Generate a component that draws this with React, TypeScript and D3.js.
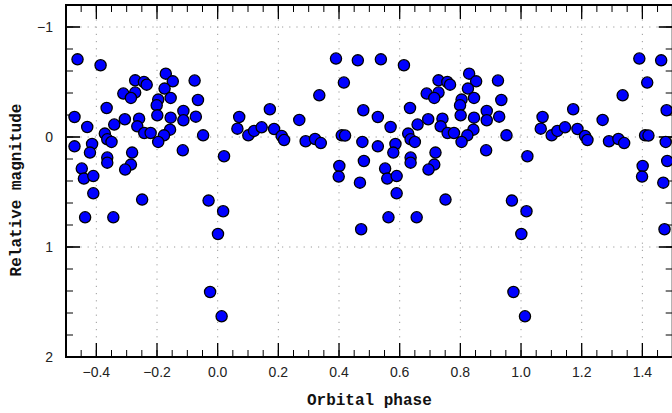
import React from "react";
import * as d3 from "d3";

// Folded light-curve observations: orbital phase (one cycle) and relative magnitude
const phases = [
  -0.462, -0.386, -0.272, -0.243, -0.234, -0.311, -0.272, -0.286, -0.366, -0.472,
  -0.43, -0.306, -0.259, -0.341, -0.265, -0.372, -0.364, -0.35, -0.242, -0.221,
  -0.472, -0.414, -0.421, -0.282, -0.364, -0.364, -0.286, -0.305, -0.448, -0.441,
  -0.41, -0.41, -0.437, -0.344, -0.249, -0.03, 0.018, 0.001, -0.025, 0.013,
  -0.171, -0.148, -0.076, -0.175, -0.155, -0.065, -0.196, -0.201, -0.113, -0.199,
  -0.155, -0.113, -0.072, -0.157, -0.177, -0.196, -0.048, -0.115, 0.021, 0.071,
  0.065, 0.101, 0.12, 0.145, 0.172, 0.39, 0.462, 0.416, 0.335, 0.48,
  0.269, 0.186, 0.211, 0.219, 0.29, 0.321, 0.34, 0.409, 0.42, 0.477,
  0.401, 0.399, 0.482, 0.469, 0.473,
];
const magnitudes = [
  -0.706, -0.652, -0.515, -0.5, -0.476, -0.395, -0.404, -0.355, -0.264, -0.182,
  -0.091, -0.161, -0.167, -0.113, -0.097, -0.031, 0.021, 0.045, -0.036, -0.036,
  0.085, 0.064, 0.142, 0.142, 0.187, 0.233, 0.251, 0.296, 0.287, 0.378,
  0.355, 0.512, 0.73, 0.73, 0.569, 0.578, 0.675, 0.882, 1.409, 1.63,
  -0.576, -0.506, -0.513, -0.44, -0.355, -0.336, -0.34, -0.288, -0.236, -0.197,
  -0.176, -0.152, -0.185, -0.067, -0.015, 0.045, -0.015, 0.121, 0.175, -0.182,
  -0.076, -0.015, -0.055, -0.088, -0.252, -0.713, -0.697, -0.495, -0.379, -0.243,
  -0.155, -0.073, -0.009, 0.027, 0.039, 0.018, 0.055, -0.015, -0.013, 0.045,
  0.264, 0.36, 0.218, 0.415, 0.839,
];
const cycleShifts = [-1, 0, 1];

const xTicks = [-0.4, -0.2, 0, 0.2, 0.4, 0.6, 0.8, 1.0, 1.2, 1.4];
const xTickLabels = ["\u22120.4", "\u22120.2", "0.0", "0.2", "0.4", "0.6", "0.8", "1.0", "1.2", "1.4"];
const yTicks = [-1, 0, 1, 2];
const yTickLabels = ["\u22121", "0", "1", "2"];
const yGrid = [-1, 0, 1];
const xTitle = "Orbital phase";
const yTitle = "Relative magnitude";

export default function App() {
  const W = 672, H = 413;
  const left = 66, right = 672.7, top = 5, bottom = 357;
  const x = d3.scaleLinear().domain([-0.5, 1.5]).range([left, right]);
  const y = d3.scaleLinear().domain([-1.2, 2]).range([top, bottom]);

  const pts: { p: number; m: number }[] = [];
  phases.forEach((p, i) => {
    cycleShifts.forEach((k) => {
      const ph = p + k;
      if (ph >= -0.5 && ph <= 1.5) pts.push({ p: ph, m: magnitudes[i] });
    });
  });

  const xMinor = d3.range(-10, 31).map((i) => i * 0.05);
  const yMinor = d3.range(-6, 11).map((i) => i * 0.2);

  const tickFont = "'Liberation Sans', Arial, Helvetica, sans-serif";
  const titleFont = "'Liberation Mono', 'Courier New', monospace";

  return (
    <svg width={W} height={H} style={{ position: "absolute", left: 0, top: 0, background: "#fff" }}>
      {/* grid */}
      {xTicks.map((t) => (
        <line key={"gx" + t} x1={x(t)} x2={x(t)} y1={top} y2={bottom}
          stroke="#9a9a9a" strokeWidth={1} strokeDasharray="1.2,6" />
      ))}
      {yGrid.map((t) => (
        <line key={"gy" + t} x1={left} x2={right} y1={y(t)} y2={y(t)}
          stroke="#9a9a9a" strokeWidth={1} strokeDasharray="1.2,6" />
      ))}

      {/* minor ticks */}
      {xMinor.map((t, i) => (
        <g key={"xm" + i}>
          <line x1={x(t)} x2={x(t)} y1={bottom} y2={bottom - 7} stroke="#000" strokeWidth={1} />
          <line x1={x(t)} x2={x(t)} y1={top} y2={top + 7} stroke="#000" strokeWidth={1} />
        </g>
      ))}
      {yMinor.map((t, i) => (
        <g key={"ym" + i}>
          <line x1={left} x2={left + 7} y1={y(t)} y2={y(t)} stroke="#000" strokeWidth={1} />
          <line x1={right} x2={right - 7} y1={y(t)} y2={y(t)} stroke="#000" strokeWidth={1} />
        </g>
      ))}
      {/* major ticks */}
      {xTicks.map((t) => (
        <g key={"xM" + t}>
          <line x1={x(t)} x2={x(t)} y1={bottom} y2={bottom - 14} stroke="#000" strokeWidth={1.3} />
          <line x1={x(t)} x2={x(t)} y1={top} y2={top + 14} stroke="#000" strokeWidth={1.3} />
        </g>
      ))}
      {yTicks.map((t) => (
        <g key={"yM" + t}>
          <line x1={left} x2={left + 14} y1={y(t)} y2={y(t)} stroke="#000" strokeWidth={1.6} />
          <line x1={right} x2={right - 14} y1={y(t)} y2={y(t)} stroke="#000" strokeWidth={1.6} />
        </g>
      ))}

      {/* frame */}
      <rect x={left} y={top} width={right - left} height={bottom - top} fill="none" stroke="#000" strokeWidth={2} />

      {/* points */}
      {pts.map((d, i) => (
        <circle key={"pt" + i} cx={x(d.p)} cy={y(d.m)} r={5.6} fill="#0000ff" stroke="#000" strokeWidth={1.3} />
      ))}

      {/* tick labels */}
      {xTicks.map((t, i) => (
        <text key={"xl" + t} x={x(t)} y={377} textAnchor="middle" fontFamily={tickFont} fontSize={14} fill="#222">
          {xTickLabels[i]}
        </text>
      ))}
      {yTicks.map((t, i) => (
        <text key={"yl" + t} x={53} y={y(t)} dy="0.36em" textAnchor="end" fontFamily={tickFont} fontSize={14} fill="#222">
          {yTickLabels[i]}
        </text>
      ))}

      {/* axis titles */}
      <text x={(left + right) / 2} y={405} textAnchor="middle" fontFamily={titleFont} fontWeight="bold" fontSize={16} fill="#111">
        {xTitle}
      </text>
      <text transform="translate(21,190) rotate(-90)" textAnchor="middle" fontFamily={titleFont} fontWeight="bold" fontSize={16} fill="#111">
        {yTitle}
      </text>
    </svg>
  );
}
